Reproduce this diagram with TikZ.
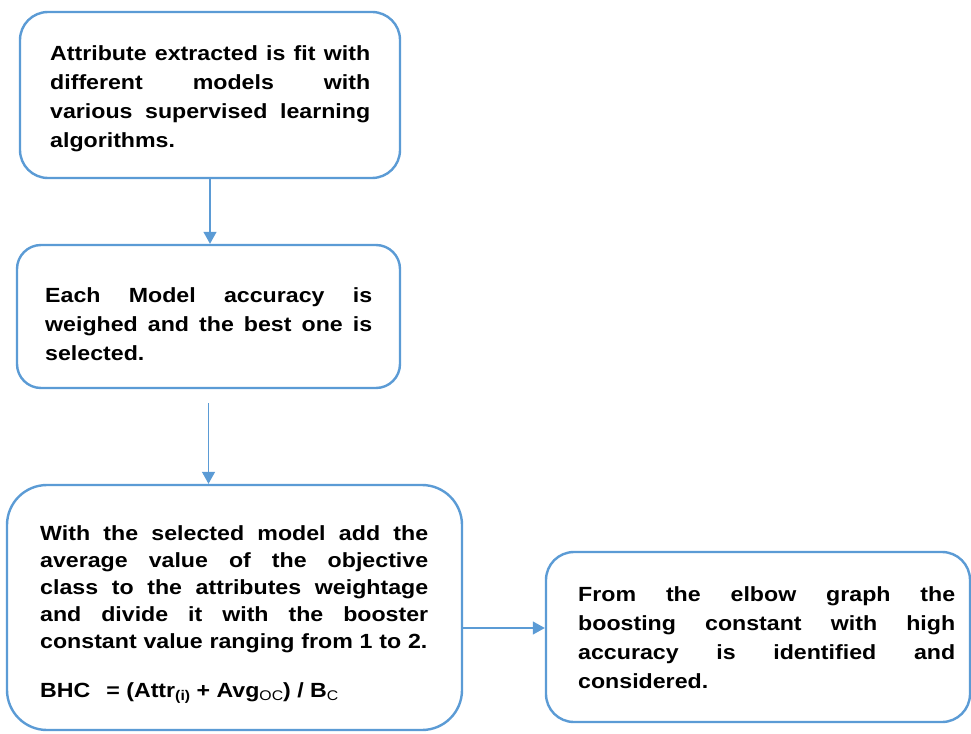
\documentclass[tikz,border=0pt]{standalone}
\usepackage{fontspec}
\setmainfont[FakeStretch=1.13]{Liberation Sans}
\usetikzlibrary{arrows.meta}
\definecolor{bl}{HTML}{5B9BD5}
\newcommand{\jl}[2]{\leavevmode\hbox to #1{\spaceskip=0.28em plus 1fil\relax #2}}
\newcommand{\subtxt}[1]{\raisebox{-3pt}{\fontsize{14}{14}\selectfont #1}}
\begin{document}
\begin{tikzpicture}[x=1pt,y=-1pt,
  box/.style={draw=bl, line width=2.4pt, fill=white, rectangle, inner sep=0pt},
  txt/.style={anchor=base west, inner sep=0pt, align=left, font=\fontsize{20.5}{29}\selectfont\bfseries},
  txtb/.style={txt, font=\fontsize{20.5}{27}\selectfont\bfseries},
  arr/.style={draw=bl, line width=1.3pt, -{Triangle[width=13pt,length=12pt]}}]
\useasboundingbox (0,0) rectangle (971,733);

\node[box, rounded corners=28pt, minimum width=380pt, minimum height=166pt] (b1) at (210,95) {};
\node[box, rounded corners=24pt, minimum width=383pt, minimum height=143pt] (b2) at (208.5,316.5) {};
\node[box, rounded corners=40pt, minimum width=455pt, minimum height=245pt] (b3) at (234.5,607.5) {};
\node[box, rounded corners=28pt, minimum width=424pt, minimum height=170pt] (b4) at (758,637) {};

\node[txt, text width=320pt] (t1) at (50,61) {\jl{320pt}{Attribute extracted is fit with}\\
\jl{320pt}{different models with}\\
\jl{320pt}{various supervised learning}\\
algorithms.};

\node[txt, text width=327pt] (t2) at (45,302) {\jl{327pt}{Each Model accuracy is}\\
\jl{327pt}{weighed and the best one is}\\
selected.};

\node[txtb, text width=388pt] (t3) at (40,540) {\jl{388pt}{With the selected model add the}\\
\jl{388pt}{average value of the objective}\\
\jl{388pt}{class to the attributes weightage}\\
\jl{388pt}{and divide it with the booster}\\
constant value ranging from 1 to 2.};

\node[txt] (f3) at (40,697) {BHC\hspace{16pt}= (Attr\subtxt{(i)} + Avg\subtxt{\mdseries OC}) / B\subtxt{\mdseries C}};

\node[txt, text width=377pt] (t4) at (578,601) {\jl{377pt}{From the elbow graph the}\\
\jl{377pt}{boosting constant with high}\\
\jl{377pt}{accuracy is identified and}\\
considered.};

\draw[arr] (b1.south) -- (b1.south |- b2.north);
\draw[arr, shorten <=14pt] (b2.south) -- (b2.south |- b3.north);
\coordinate (a3) at (462,628);
\draw[arr] (a3) -- (a3 -| b4.west);
\end{tikzpicture}
\end{document}
